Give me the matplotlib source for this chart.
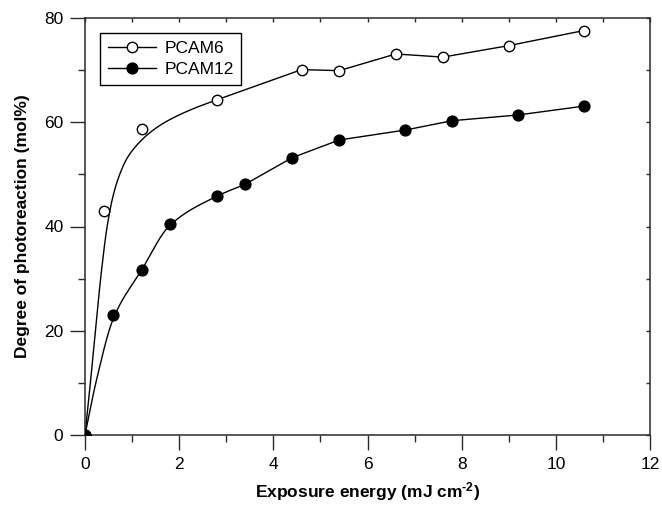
import matplotlib
matplotlib.use("Agg")
import numpy as np
import matplotlib.pyplot as plt
from matplotlib.ticker import MultipleLocator

plt.rcParams['font.family'] = ['Liberation Sans', 'DejaVu Sans']
plt.rcParams['mathtext.fontset'] = 'custom'
plt.rcParams['mathtext.rm'] = 'Liberation Sans:bold'
plt.rcParams['mathtext.bf'] = 'Liberation Sans:bold'
plt.rcParams['mathtext.it'] = 'Liberation Sans:bold'

# ---- data ----
series_names = ["PCAM6", "PCAM12"]

pcam6_x = [0, 0.4, 1.2, 2.8, 4.6, 5.4, 6.6, 7.6, 9.0, 10.6]
pcam6_y = [0, 43.0, 58.7, 64.3, 70.1, 69.9, 73.1, 72.5, 74.7, 77.6]

pcam12_x = [0, 0.6, 1.2, 1.8, 2.8, 3.4, 4.4, 5.4, 6.8, 7.8, 9.2, 10.6]
pcam12_y = [0, 23.0, 31.6, 40.4, 45.8, 48.1, 53.2, 56.6, 58.5, 60.3, 61.4, 63.1]

# guide curves as drawn in the reference: smooth head (control points) + straight tail
pcam6_head_x = [0, 0.1, 0.22, 0.35, 0.47, 0.6, 0.75, 0.9, 1.1, 1.35, 1.7, 2.3, 2.8]
pcam6_head_y = [0, 8.7, 20.0, 31.5, 40.0, 46.0, 50.3, 53.2, 55.6, 57.8, 60.0, 62.6, 64.3]
pcam6_tail_x = [2.8, 4.6, 5.4, 6.6, 7.6, 9.0, 10.6]
pcam6_tail_y = [64.3, 70.1, 69.9, 73.1, 72.5, 74.7, 77.6]

pcam12_head_x = [0, 0.24, 0.6, 1.2, 1.8, 2.8, 3.4]
pcam12_head_y = [0, 10.4, 22.3, 31.6, 40.2, 45.8, 48.1]
pcam12_tail_x = [3.4, 4.4, 5.4, 6.8, 7.8, 9.2, 10.6]
pcam12_tail_y = [48.1, 53.2, 56.6, 58.5, 60.3, 61.4, 63.1]

x_ticks = [0, 2, 4, 6, 8, 10, 12]
y_ticks = [0, 20, 40, 60, 80]


def pchip(xk, yk, n=300):
    """Monotone cubic (Fritsch-Carlson) rendering of a curve through control points."""
    xk = np.asarray(xk, float)
    yk = np.asarray(yk, float)
    h = np.diff(xk)
    d = np.diff(yk) / h
    m = np.zeros_like(yk)
    for i in range(1, len(xk) - 1):
        if d[i - 1] * d[i] > 0:
            w1 = 2 * h[i] + h[i - 1]
            w2 = h[i] + 2 * h[i - 1]
            m[i] = (w1 + w2) / (w1 / d[i - 1] + w2 / d[i])
    m[0] = d[0]
    m[-1] = d[-1]
    xs = np.linspace(xk[0], xk[-1], n)
    idx = np.clip(np.searchsorted(xk, xs) - 1, 0, len(h) - 1)
    t = (xs - xk[idx]) / h[idx]
    h00 = 2 * t**3 - 3 * t**2 + 1
    h10 = t**3 - 2 * t**2 + t
    h01 = -2 * t**3 + 3 * t**2
    h11 = t**3 - t**2
    ys = h00 * yk[idx] + h10 * h[idx] * m[idx] + h01 * yk[idx + 1] + h11 * h[idx] * m[idx + 1]
    return xs, ys


# ---- figure ----
fig = plt.figure(figsize=(6.62, 5.07), dpi=100)
ax = fig.add_axes([85/662, 1 - 435/507, (650-85)/662, (435-18)/507])

lw = 1.0
for hx, hy, tx, ty in [(pcam6_head_x, pcam6_head_y, pcam6_tail_x, pcam6_tail_y),
                       (pcam12_head_x, pcam12_head_y, pcam12_tail_x, pcam12_tail_y)]:
    sx, sy = pchip(hx, hy)
    ax.plot(np.concatenate([sx, tx]), np.concatenate([sy, ty]), color='black', lw=lw,
            zorder=2)

ax.plot(pcam6_x, pcam6_y, linestyle='none', marker='o', ms=7.5, mfc='white',
        mec='black', mew=1.0, zorder=3)
ax.plot(pcam12_x, pcam12_y, linestyle='none', marker='o', ms=7.8, mfc='black',
        mec='black', mew=1.0, zorder=3)

# legend proxies (line + marker)
h6, = ax.plot([], [], color='black', lw=lw, marker='o', ms=7.5, mfc='white', mec='black', mew=1.0)
h12, = ax.plot([], [], color='black', lw=lw, marker='o', ms=7.8, mfc='black', mec='black', mew=1.0)
leg = ax.legend([h6, h12], series_names, loc='upper left',
                bbox_to_anchor=(15/565, (435-33)/417), borderaxespad=0,
                fontsize=12.5, frameon=True, fancybox=False, framealpha=1,
                edgecolor='black', handlelength=2.75, handletextpad=0.5,
                labelspacing=0.35, borderpad=0.45)
leg.get_frame().set_linewidth(1.0)

ax.set_xlim(0, 12)
ax.set_ylim(0, 80)
ax.set_xticks(x_ticks)
ax.set_yticks(y_ticks)
ax.xaxis.set_minor_locator(MultipleLocator(1))
ax.yaxis.set_minor_locator(MultipleLocator(10))

spine_col = '#2a2a2a'
for s in ax.spines.values():
    s.set_color(spine_col)
    s.set_linewidth(1.1)

ax.tick_params(axis='both', which='major', direction='out', length=10.5, width=1.0,
               color=spine_col, labelsize=12.5, pad=5)
ax.tick_params(axis='both', which='minor', direction='out', length=5, width=1.0,
               color=spine_col)

# inward ticks on top and right
secx = ax.secondary_xaxis('top')
secx.set_xticks(x_ticks)
secx.xaxis.set_minor_locator(MultipleLocator(1))
secx.tick_params(which='both', direction='in', length=3, width=1.0, color=spine_col,
                 labeltop=False)
secx.spines['top'].set_visible(False)
secy = ax.secondary_yaxis('right')
secy.set_yticks(y_ticks)
secy.yaxis.set_minor_locator(MultipleLocator(10))
secy.tick_params(which='both', direction='in', length=3, width=1.0, color=spine_col,
                 labelright=False)
secy.spines['right'].set_visible(False)

ax.set_xlabel(r'Exposure energy (mJ cm$^{\text{-2}}$)', fontsize=12.5, fontweight='bold',
              labelpad=6)
ax.set_ylabel('Degree of photoreaction (mol%)', fontsize=12.5, fontweight='bold', labelpad=10)

fig.savefig('out.png', dpi=100)
